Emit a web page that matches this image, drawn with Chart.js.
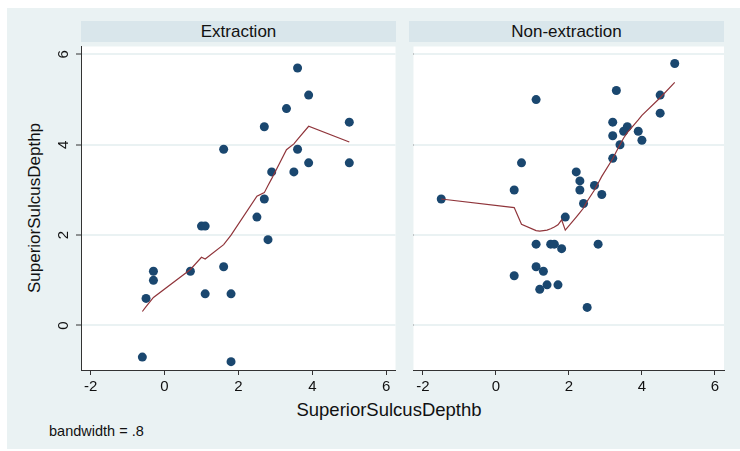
<!DOCTYPE html>
<html>
<head>
<meta charset="utf-8">
<script src="https://cdn.jsdelivr.net/npm/chart.js@4"></script>
<style>
  body { margin: 0; background: #fff; font-family: "Liberation Sans", Arial, sans-serif; }
  #bg { position: absolute; left: 7px; top: 8px; width: 733px; height: 441px; background: #eaf2f3; }
  .strip { position: absolute; top: 21px; height: 21px; width: 315px; background: #d9e6eb;
           text-align: center; font-size: 17px; line-height: 21px; color: #111; }
  .txt { position: absolute; white-space: nowrap; color: #111; }
  canvas { position: absolute; }
</style>
</head>
<body>
<div id="bg"></div>
<div class="strip" style="left:81px">Extraction</div>
<div class="strip" style="left:409px">Non-extraction</div>
<div class="txt" style="left:35px;top:208px;font-size:17px;transform:translate(-50%,-50%) rotate(-90deg)">SuperiorSulcusDepthp</div>
<div class="txt" style="left:389px;top:410px;font-size:18.5px;transform:translate(-50%,-50%)">SuperiorSulcusDepthb</div>
<div class="txt" style="left:49px;top:431px;font-size:14.5px;transform:translate(0,-50%)">bandwidth = .8</div>
<canvas id="left" width="400" height="358" style="left:0;top:42px"></canvas>
<canvas id="right" width="331" height="358" style="left:409px;top:42px"></canvas>
<script>
// Extraction group
var extX = [3.6, 3.9, 3.3, 5.0, 2.7, 1.6, 3.6, 3.9, 5.0, 2.9, 3.5, 2.7, 2.5, 1.0, 1.1, 2.8, -0.3, 0.7, 1.6, -0.3, -0.5, 1.1, 1.8, -0.6, 1.8];
var extY = [5.7, 5.1, 4.8, 4.5, 4.4, 3.9, 3.9, 3.6, 3.6, 3.4, 3.4, 2.8, 2.4, 2.2, 2.2, 1.9, 1.2, 1.2, 1.3, 1.0, 0.6, 0.7, 0.7, -0.7, -0.8];
// lowess fit, extraction
var extFitX = [-0.6, -0.5, -0.3, 0.7, 1.0, 1.1, 1.6, 1.8, 2.5, 2.7, 2.8, 2.9, 3.3, 3.5, 3.6, 3.9, 5.0];
var extFitY = [0.31, 0.42, 0.62, 1.24, 1.51, 1.47, 1.79, 2.0, 2.86, 2.94, 3.1, 3.25, 3.89, 4.02, 4.12, 4.41, 4.06];

// Non-extraction group
var nonX = [4.9, 3.3, 1.1, 4.5, 4.5, 3.2, 3.6, 3.5, 3.9, 3.2, 4.0, 3.4, 3.2, 0.7, 2.2, 2.3, 0.5, 2.3, 2.7, 2.9, 2.4, -1.5, 1.9,
            1.1, 1.5, 1.6, 1.8, 2.8, 1.1, 1.3, 0.5, 1.4, 1.7, 1.2, 2.5];
var nonY = [5.8, 5.2, 5.0, 5.1, 4.7, 4.5, 4.4, 4.3, 4.3, 4.2, 4.1, 4.0, 3.7, 3.6, 3.4, 3.2, 3.0, 3.0, 3.1, 2.9, 2.7, 2.8, 2.4,
            1.8, 1.8, 1.8, 1.7, 1.8, 1.3, 1.2, 1.1, 0.9, 0.9, 0.8, 0.4];
var nonFitX = [-1.5, 0.5, 0.7, 1.1, 1.2, 1.3, 1.4, 1.5, 1.6, 1.7, 1.8, 1.9, 2.2, 2.3, 2.4, 2.5, 2.7, 2.8, 2.9, 3.2, 3.3, 3.4, 3.5, 3.6, 3.9, 4.0, 4.5, 4.9];
var nonFitY = [2.80, 2.61, 2.24, 2.10, 2.09, 2.10, 2.11, 2.14, 2.18, 2.23, 2.34, 2.11, 2.40, 2.50, 2.60, 2.75, 3.0, 3.15, 3.3, 3.69, 3.85, 4.0, 4.15, 4.27, 4.55, 4.65, 5.04, 5.38];

var xTicks = [-2, 0, 2, 4, 6];
var yTicks = [0, 2, 4, 6];

var tickFont = { family: "'Liberation Sans', Arial, sans-serif", size: 15 };

function pts(xs, ys) {
  return xs.map(function(v, i) { return { x: v, y: ys[i] }; });
}

var whiteArea = {
  id: 'whiteArea',
  beforeDraw: function(chart) {
    var a = chart.chartArea, ctx = chart.ctx;
    ctx.save();
    ctx.fillStyle = '#fff';
    ctx.fillRect(a.left, a.top, a.right - a.left, a.bottom - a.top);
    ctx.restore();
  }
};

function makeChart(id, xs, ys, fx, fy, showY, padRight) {
  return new Chart(document.getElementById(id), {
    type: 'scatter',
    data: {
      datasets: [{
        type: 'line',
        data: pts(fx, fy),
        borderColor: '#90353b',
        borderWidth: 1.2,
        pointRadius: 0,
        fill: false,
        tension: 0,
        order: 0
      }, {
        data: pts(xs, ys),
        backgroundColor: '#1a476f',
        borderWidth: 0,
        pointRadius: 4.5,
        order: 1
      }]
    },
    plugins: [whiteArea],
    options: {
      responsive: false,
      animation: false,
      layout: { padding: { left: 0, right: padRight, top: 0, bottom: 0 } },
      plugins: { legend: { display: false }, tooltip: { enabled: false } },
      scales: {
        x: {
          type: 'linear',
          min: -2.26,
          max: 6.25,
          afterBuildTicks: function(s) { s.ticks = xTicks.map(function(v) { return { value: v }; }); },
          afterFit: function(s) { s.height = 30; s.paddingLeft = 0; s.paddingRight = 0; },
          grid: { drawOnChartArea: false, tickLength: 5, tickColor: '#333', tickWidth: 1 },
          border: { color: '#333', width: 1 },
          ticks: { font: tickFont, color: '#111', padding: 3, maxRotation: 0 }
        },
        y: {
          type: 'linear',
          min: -0.985,
          max: 6.175,
          afterBuildTicks: function(s) { s.ticks = yTicks.map(function(v) { return { value: v }; }); },
          afterFit: function(s) { s.width = showY ? 81 : 0; s.paddingTop = 0; s.paddingBottom = 0; },
          grid: { color: '#eaf2f3', lineWidth: 2, tickLength: showY ? 5 : 0, tickColor: '#333', tickWidth: 1 },
          border: { display: showY, color: '#333', width: 1 },
          ticks: { display: showY, font: tickFont, color: '#111', minRotation: 90, maxRotation: 90, crossAlign: 'center', padding: 8 }
        }
      }
    }
  });
}

makeChart('left', extX, extY, extFitX, extFitY, true, 4);
makeChart('right', nonX, nonY, nonFitX, nonFitY, false, 16);
</script>
</body>
</html>
